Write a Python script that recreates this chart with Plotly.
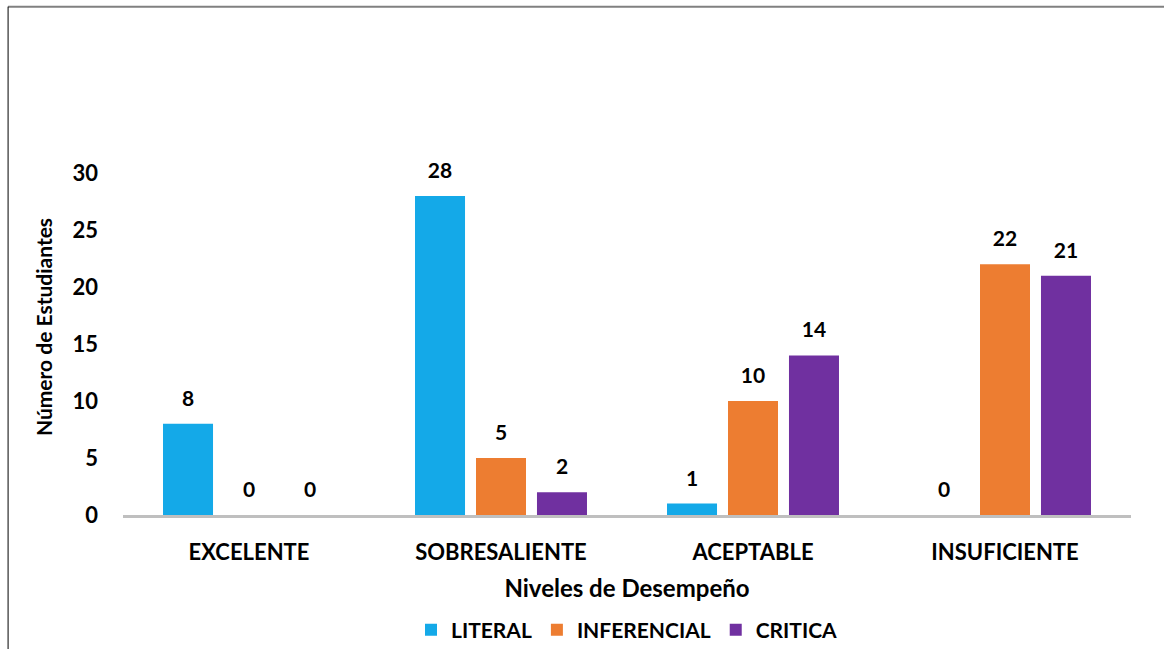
import plotly.graph_objects as go

# Datos del gráfico
niveles = ["EXCELENTE", "SOBRESALIENTE", "ACEPTABLE", "INSUFICIENTE"]
literal = [8, 28, 1, 0]
inferencial = [0, 5, 10, 22]
critica = [0, 2, 14, 21]
y_ticks = [0, 5, 10, 15, 20, 25, 30]

FONT = "Lato, 'Open Sans', sans-serif"
series = [
    ("<b>LITERAL</b>", literal, "#14A9E8"),
    ("<b>INFERENCIAL</b>", inferencial, "#ED7D31"),
    ("<b>CRITICA</b>", critica, "#7030A0"),
]

fig = go.Figure()
for name, vals, color in series:
    fig.add_trace(go.Bar(
        x=niveles, y=vals, name=name,
        marker=dict(color=color, line=dict(width=0)),
        # etiqueta grande + línea pequeña vacía para separarla de la barra
        text=[f"<span style='font-size:21px'><b>{v}</b></span><br>&nbsp;" for v in vals],
        textposition="outside",
        textfont=dict(size=10, color="black", family=FONT),
        cliponaxis=False,
    ))

fig.update_layout(
    width=1164, height=649,
    margin=dict(l=123, r=33, t=139, b=134, autoexpand=False),
    paper_bgcolor="white", plot_bgcolor="white",
    barmode="group", bargap=0.274, bargroupgap=0.18,
    font=dict(family=FONT, color="black"),
    showlegend=True,
    legend=dict(
        orientation="h", x=0.5, xanchor="center", y=-0.306, yanchor="middle",
        font=dict(size=21, family=FONT), traceorder="normal",
    ),
    xaxis=dict(
        showline=True, linecolor="#BFBFBF", linewidth=3,
        ticks="", ticklabelstandoff=16,
        tickfont=dict(size=22, family=FONT),
        tickvals=niveles, ticktext=[f"<b>{n}</b>" for n in niveles],
        title=dict(text="<b>Niveles de Desempeño</b>", font=dict(size=24), standoff=16),
    ),
    yaxis=dict(
        range=[0, 33], tickvals=y_ticks, ticktext=[f"<b>{t}</b>" for t in y_ticks],
        showgrid=False, zeroline=False, showline=False,
        ticklabelstandoff=24,
        tickfont=dict(size=22, family=FONT),
        title=dict(text="<b>Número de Estudiantes</b>", font=dict(size=21), standoff=14),
    ),
    shapes=[
        dict(type="line", xref="paper", yref="paper", x0=-0.114, x1=1.04, y0=1.352, y1=1.352,
             line=dict(color="#808080", width=2)),
        dict(type="line", xref="paper", yref="paper", x0=-0.114, x1=-0.114, y0=1.352, y1=-0.4,
             line=dict(color="#000000", width=1)),
    ],
)

fig.write_html("out.html", config={"displayModeBar": False},
               post_script="document.body.style.margin='0';")
